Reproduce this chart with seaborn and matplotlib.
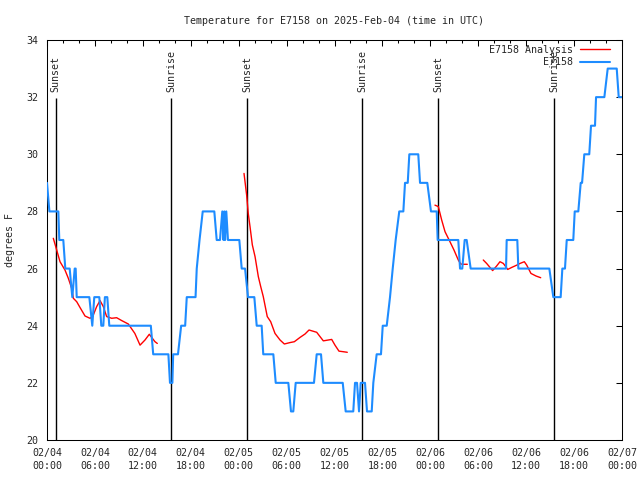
import pandas as pd
import matplotlib
matplotlib.use('Agg')
import matplotlib.pyplot as plt
import seaborn as sns
from matplotlib.lines import Line2D
from matplotlib.ticker import MultipleLocator

# Veriler (saat, 2025-02-04 00:00 UTC'den itibaren)
blue_hours = [0.0, 0.3, 1.42, 1.54, 2.04, 2.29, 2.84, 3.0, 3.17, 3.47, 3.59, 3.72,
              5.30, 5.67, 5.92, 6.05, 6.55, 6.80, 7.05, 7.25, 7.55, 7.80,
              13.0, 13.3, 15.2, 15.4, 15.7, 15.8, 16.4, 16.8, 17.3, 17.5, 18.6,
              18.75, 19.1, 19.5, 20.95, 21.25, 21.66, 21.95, 22.1, 22.2, 22.3,
              22.45, 22.66, 24.08, 24.38, 24.8, 25.17, 25.96, 26.26, 26.88,
              27.08, 28.34, 28.64, 30.22, 30.55, 30.84, 31.14, 33.43, 33.77,
              34.31, 34.6, 37.03, 37.4, 38.35, 38.57, 38.82, 39.07, 39.28, 39.82,
              40.07, 40.66, 40.86, 41.28, 41.82, 42.04, 42.54, 42.95, 43.29,
              43.66, 44.11, 44.62, 44.83, 45.17, 45.37, 46.49, 46.71, 47.62,
              48.08, 48.8, 48.92, 51.5, 51.72, 52.0, 52.3, 52.55, 53.05, 57.48,
              57.56, 58.89, 59.02, 62.9, 63.4, 64.32, 64.53, 64.86, 65.08, 65.9,
              66.08, 66.53, 66.83, 67.0, 67.28, 67.9, 68.12, 68.62, 68.75, 69.79,
              70.21, 71.34, 71.59, 72.0]
blue_temps = [29, 28, 28, 27, 27, 26, 26, 25.5, 25, 26, 26, 25,
              25, 24, 25, 25, 25, 24, 24, 25, 25, 24,
              24, 23, 23, 22, 22, 23, 23, 24, 24, 25, 25,
              26, 27, 28, 28, 27, 27, 28, 27, 28, 27,
              28, 27, 27, 26, 26, 25, 25, 24, 24,
              23, 23, 22, 22, 21, 21, 22, 22, 23,
              23, 22, 22, 21, 21, 22, 22, 21, 22, 22,
              21, 21, 22, 23, 23, 24, 24, 25, 26,
              27, 28, 28, 29, 29, 30, 30, 29, 29,
              28, 28, 27, 27, 26, 26, 27, 27, 26, 26,
              27, 27, 26, 26, 25, 25, 26, 26, 27, 27,
              28, 28, 29, 29, 30, 30, 31, 31, 32, 32,
              33, 33, 32, 32]

red_hours = [0.79, 1.09, 1.63, 2.25, 2.67, 3.09, 3.30, 3.72, 4.13, 4.76, 5.38,
             5.72, 6.22, 6.64, 7.05, 7.47, 8.10, 8.72, 9.35, 10.18, 11.0, 11.65,
             12.27, 12.81, 13.52, 13.81,
             24.67, 25.0, 25.2, 25.42, 25.71, 26.05, 26.46, 26.76, 27.08, 27.58,
             28.01, 28.55, 29.18, 29.72, 30.43, 30.97, 31.68, 32.31, 32.81, 33.77,
             34.6, 35.65, 36.06, 36.56, 37.1, 37.6,
             48.58, 49.0, 49.42, 49.84, 50.46, 50.96, 51.5, 51.8, 52.13, 52.63,
             54.63, 55.05, 55.8, 56.3, 56.72, 57.14, 57.69, 58.19, 58.82, 59.23,
             59.77, 60.07, 60.6, 61.23, 61.82]
red_temps = [27.06, 26.77, 26.24, 25.95, 25.66, 25.31, 24.96, 24.84, 24.64, 24.34,
             24.26, 24.32, 24.67, 24.88, 24.67, 24.32, 24.26, 24.28, 24.18, 24.06,
             23.73, 23.32, 23.50, 23.70, 23.44, 23.38,
             29.33, 28.57, 27.93, 27.47, 26.83, 26.42, 25.72, 25.37, 25.02, 24.32,
             24.14, 23.73, 23.50, 23.36, 23.41, 23.44, 23.59, 23.71, 23.85, 23.77,
             23.47, 23.52, 23.32, 23.11, 23.09, 23.07,
             28.22, 28.17, 27.70, 27.29, 26.94, 26.65, 26.30, 26.16, 26.15, 26.15,
             26.30, 26.18, 25.93, 26.09, 26.24, 26.18, 25.97, 26.04, 26.12, 26.18,
             26.24, 26.12, 25.83, 25.74, 25.68]
red_seg = [1] * 26 + [2] * 26 + [3] * 10 + [4] * 15

event_hours = [1.08, 15.58, 25.08, 39.5, 49.0, 63.53]
event_labels = ['Sunset', 'Sunrise', 'Sunset', 'Sunrise', 'Sunset', 'Sunrise']

start = pd.Timestamp('2025-02-04 00:00')
tick_hours = list(range(0, 73, 6))

sns.set_style('white')
plt.rcParams['font.family'] = ['DejaVu Sans Mono']
plt.rcParams['font.size'] = 7.2

blue_c = '#1e8cff'
fig = plt.figure(figsize=(6.4, 4.8), dpi=100)
ax = fig.add_axes([47 / 640, 40 / 480, 575 / 640, 400 / 480])

# Gün doğumu / batımı çizgileri
ax.vlines(event_hours, 20, 31.97, color='black', lw=1.0, zorder=1)
for h, lab in zip(event_hours, event_labels):
    ax.text(h, 32.18, lab, rotation=90, ha='center', va='bottom', zorder=1)

red_df = pd.DataFrame({'hour': red_hours, 'temp': red_temps, 'seg': red_seg})
sns.lineplot(data=red_df, x='hour', y='temp', units='seg', estimator=None,
             sort=False, color='red', lw=1.0, ax=ax, zorder=2)
blue_df = pd.DataFrame({'hour': blue_hours, 'temp': blue_temps})
sns.lineplot(data=blue_df, x='hour', y='temp', estimator=None, sort=False,
             color=blue_c, lw=1.5, ax=ax, zorder=3)

ax.set_xlim(0, 72)
ax.set_ylim(20, 34)
ax.set_xticks(tick_hours)
ax.set_xticklabels([(start + pd.Timedelta(hours=h)).strftime('%m/%d\n%H:%M')
                    for h in tick_hours], linespacing=1.3)
ax.xaxis.set_minor_locator(MultipleLocator(2))
ax.set_yticks(range(20, 35, 2))
ax.tick_params(axis='both', which='both', direction='in', top=True, right=True,
               color='black', width=0.75)
ax.tick_params(axis='x', which='major', length=4, pad=6)
ax.tick_params(axis='x', which='minor', length=2.2)
ax.tick_params(axis='y', which='major', length=4, pad=6.5)
for sp in ax.spines.values():
    sp.set_color('black')
    sp.set_linewidth(0.75)

ax.set_xlabel('')
ax.set_ylabel('degrees F')
ax.yaxis.set_label_coords(-37 / 575, 0.5)
ax.yaxis.label.set_va('center')
ax.set_title('Temperature for E7158 on 2025-Feb-04 (time in UTC)', pad=11.5,
             fontsize=7.2)

handles = [Line2D([], [], color='red', lw=1.0), Line2D([], [], color=blue_c, lw=1.5)]
ax.legend(handles, ['E7158 Analysis', 'E7158'], loc='upper right', markerfirst=False,
          frameon=False, handlelength=3.0, handletextpad=0.7, labelspacing=0.25,
          borderpad=0, borderaxespad=0, bbox_to_anchor=(563 / 575, 0.988))

fig.savefig('out.png', dpi=100)
